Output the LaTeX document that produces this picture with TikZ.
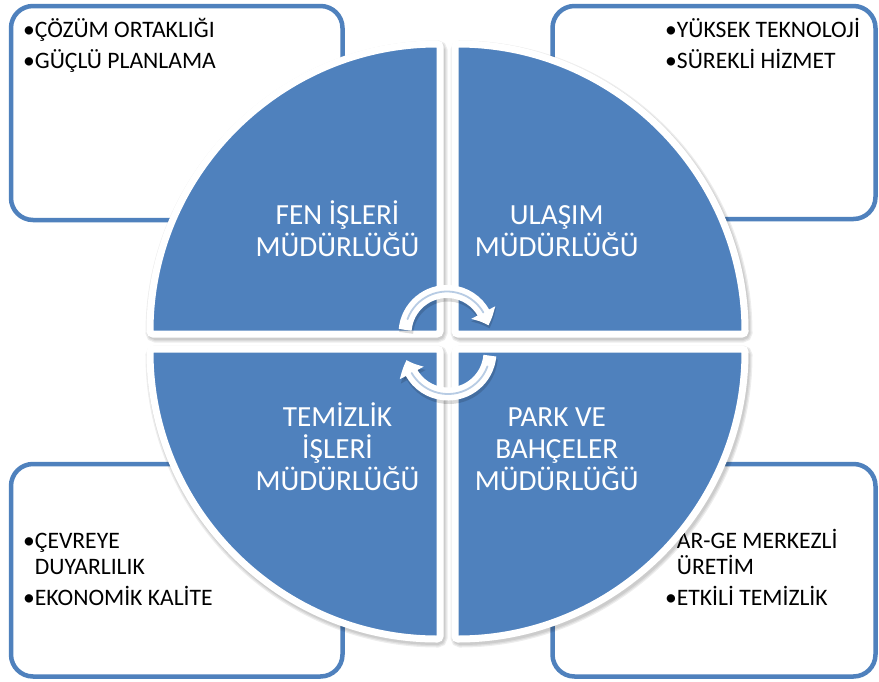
\documentclass[tikz,border=0pt]{standalone}
\usepackage{fontspec}
\setmainfont{Carlito}
\usetikzlibrary{arrows.meta,bending}
\definecolor{ofblue}{RGB}{79,129,189}
\definecolor{arrline}{RGB}{184,204,228}
\begin{document}
\begin{tikzpicture}[x=1pt,y=-1pt,
  infobox/.style={draw=ofblue, line width=4.5pt, fill=white, rounded corners=22pt},
  quad/.style={fill=ofblue, draw=white, line width=7pt, rounded corners=3pt},
  quadshadow/.style={fill=black, draw=black, opacity=0.07, rounded corners=4pt},
  boxtext/.style={font=\fontsize{23.6}{26}\selectfont, align=left, inner sep=0pt, anchor=base west, text=black},
  pietext/.style={font=\fontsize{29.2}{32}\selectfont, align=center, inner sep=0pt, anchor=base, text=white},
  cyc/.style={draw=white, line width=13pt, -{Triangle[width=26pt,length=14pt,bend]}},
  cycshadow/.style={draw=black, opacity=0.15, line width=14pt, -{Triangle[width=27pt,length=15pt,bend]}},
  cycline/.style={draw=arrline, line width=1.8pt, line cap=round}
]
\useasboundingbox[fill=white] (0,0) rectangle (879,681);

% info boxes
\draw[infobox] (11,6) rectangle (342.5,220);
\draw[infobox] (552.5,6) rectangle (875.5,219);
\draw[infobox] (11,464) rectangle (342.5,676.5);
\draw[infobox] (552.5,464) rectangle (875.5,676.5);

% box texts (anchor = baseline of last line)
\node[boxtext] (t1) at (23,68) {•ÇÖZÜM ORTAKLIĞI\\[5pt]•GÜÇLÜ PLANLAMA};
\node[boxtext] (t2) at (665,68) {•YÜKSEK TEKNOLOJİ\\[5pt]•SÜREKLİ HİZMET};
\node[boxtext] (t3) at (23,605) {•ÇEVREYE\\\hphantom{•}DUYARLILIK\\[5pt]•EKONOMİK KALİTE};
\node[boxtext] (t4) at (665,605) {•AR-GE MERKEZLİ\\\hphantom{•}ÜRETİM\\[5pt]•ETKİLİ TEMİZLİK};

% quadrant shadows
\foreach \w in {12,9.5,7}{
\begin{scope}[shift={(1.5,2.5)}]
\path[quadshadow, line width=\w pt] (440,334) -- (150,334) arc[start angle=180,end angle=90,radius=290pt] -- cycle;
\path[quadshadow, line width=\w pt] (455,334) -- (455,44) arc[start angle=90,end angle=0,radius=290pt] -- cycle;
\path[quadshadow, line width=\w pt] (455,349) -- (745,349) arc[start angle=0,end angle=-90,radius=290pt] -- cycle;
\path[quadshadow, line width=\w pt] (440,349) -- (440,639) arc[start angle=-90,end angle=-180,radius=290pt] -- cycle;
\end{scope}
}

% quadrants
\path[quad] (440,334) -- (150,334) arc[start angle=180,end angle=90,radius=290pt] -- cycle;
\path[quad] (455,334) -- (455,44) arc[start angle=90,end angle=0,radius=290pt] -- cycle;
\path[quad] (455,349) -- (745,349) arc[start angle=0,end angle=-90,radius=290pt] -- cycle;
\path[quad] (440,349) -- (440,639) arc[start angle=-90,end angle=-180,radius=290pt] -- cycle;

\node[pietext] (q1) at (337.5,256) {FEN İŞLERİ\\MÜDÜRLÜĞÜ};
\node[pietext] (q2) at (556.7,256) {ULAŞIM\\MÜDÜRLÜĞÜ};
\node[pietext] (q3) at (337.5,490) {TEMİZLİK\\İŞLERİ\\MÜDÜRLÜĞÜ};
\node[pietext] (q4) at (556.7,490) {PARK VE\\BAHÇELER\\MÜDÜRLÜĞÜ};

% circular arrows
\coordinate (ctop) at (447,333.5);
\coordinate (cbot) at (448,352);
\draw[cycshadow] ([shift={(1,3)}]ctop) ++(175:42pt) arc[start angle=175,end angle=11,radius=42pt];
\draw[cycshadow] ([shift={(1,3)}]cbot) ++(-5:42pt) arc[start angle=-5,end angle=-169,radius=42pt];
\draw[cyc] (ctop) ++(175:42pt) arc[start angle=175,end angle=11,radius=42pt];
\draw[cyc] (cbot) ++(-5:42pt) arc[start angle=-5,end angle=-169,radius=42pt];
\draw[cycline] (ctop) ++(160:42pt) arc[start angle=160,end angle=30,radius=42pt];
\draw[cycline] (cbot) ++(-20:42pt) arc[start angle=-20,end angle=-150,radius=42pt];
\end{tikzpicture}
\end{document}
